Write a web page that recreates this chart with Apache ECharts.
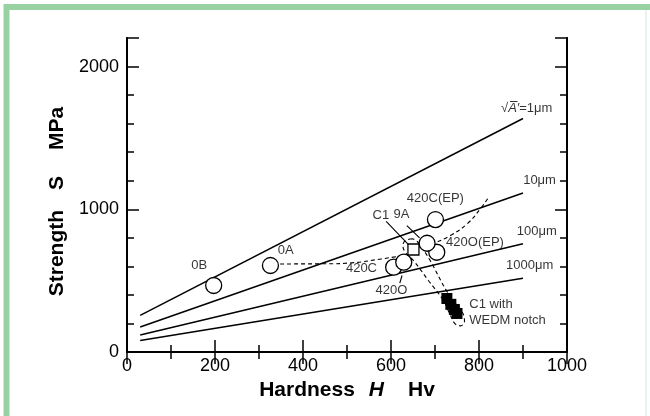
<!DOCTYPE html>
<html>
<head>
<meta charset="utf-8">
<script src="https://cdn.jsdelivr.net/npm/echarts@6/dist/echarts.min.js"></script>
<style>
html,body{margin:0;padding:0;background:#fff;}
#main{width:650px;height:416px;}
</style>
</head>
<body>
<div id="main"></div>
<script>
// sqrt(area) reference lines : two end points each
var lineH = [30, 900];
var line1um = [257, 1636];
var line10um = [175, 1114];
var line100um = [119, 759];
var line1000um = [81, 517];

// open circles
var circleNames = ['0B', '0A', '420C', '420O', '420C(EP)', '420O(EP)', '9A'];
var circleH = [197, 326, 606, 629, 701, 704, 682];
var circleS = [466, 606, 594, 629, 928, 699, 762];

// open square C1
var c1H = [651];
var c1S = [718];

// C1 with WEDM notch (filled squares)
var wedmH = [727, 736, 744, 750];
var wedmS = [375, 334, 298, 270];

// dashed trend curves
var dash0AH = [348, 450, 515, 578, 612];
var dash0AS = [617, 618, 626, 652, 668];
var dashEPH = [706, 735, 773, 803, 822];
var dashEPS = [772, 816, 898, 1003, 1084];
var loopH = [648, 633, 627, 633, 651, 685, 719, 735, 746, 758, 767, 762, 728, 689, 667, 657, 648];
var loopS = [793, 781, 746, 697, 641, 501, 362, 257, 197, 183, 215, 278, 420, 641, 746, 781, 793];

// leader lines
var leadC1H = [589, 642], leadC1S = [916, 746];
var lead9AH = [636, 665], lead9AS = [886, 800];
var lead420OH = [625, 620], lead420OS = [536, 482];

// annotation texts and where they sit
var noteText = ['0B', '0A', '420C', '420O', '420C(EP)', 'C1', '9A', '420O(EP)', 'C1 with', 'WEDM notch',
  '√{i|A\u0305′}=1μm', '10μm', '100μm', '1000μm'];
var noteH = [165, 362, 534, 602, 702, 578, 625, 792, 779, 779, 968, 976, 978, 970];
var noteS = [601, 709, 585, 431, 1070, 956, 958, 762, 329, 220, 1702, 1201, 839, 601];
var noteAlign = ['center', 'center', 'center', 'center', 'center', 'center', 'center', 'center', 'left', 'left',
  'right', 'right', 'right', 'right'];

var font = 'Liberation Sans, Arial, Helvetica, sans-serif';

function pairs(xs, ys) {
	var out = [];
	for (var i = 0; i < xs.length; i++) out.push([xs[i], ys[i]]);
	return out;
}

function refLine(vals) {
	return {
		type: 'line', data: pairs(lineH, vals), showSymbol: false, silent: true,
		lineStyle: {color: '#000', width: 1.5}, z: 2
	};
}

function dashed(xs, ys, smooth) {
	return {
		type: 'line', data: pairs(xs, ys), showSymbol: false, smooth: smooth, silent: true,
		lineStyle: {color: '#000', width: 1.1, type: [4, 3]}, z: 3
	};
}

function leader(xs, ys) {
	return {
		type: 'line', data: pairs(xs, ys), showSymbol: false, silent: true,
		lineStyle: {color: '#000', width: 1.1}, z: 3
	};
}

var notes = [];
for (var i = 0; i < noteText.length; i++) {
	notes.push({
		value: [noteH[i], noteS[i]], name: noteText[i],
		label: {align: noteAlign[i]}
	});
}

var xBase = {
	type: 'value', min: 0, max: 1000, interval: 200,
	axisLine: {lineStyle: {color: '#000', width: 2}},
	axisTick: {inside: true, length: 12, lineStyle: {color: '#000', width: 1.5}},
	minorTick: {show: true, splitNumber: 2, length: 7, lineStyle: {color: '#000', width: 1.5}},
	splitLine: {show: false}
};

function yAxisDef(pos, interval, len) {
	return {
		type: 'value', position: pos, min: 0, max: 2200, interval: interval,
		axisLine: {show: true, lineStyle: {color: '#000', width: 2}},
		axisTick: {show: true, inside: true, length: len, lineStyle: {color: '#000', width: 1.5}},
		axisLabel: {show: false},
		splitLine: {show: false}
	};
}

var yLeft = yAxisDef('left', 200, 7);
yLeft.axisLabel = {
	show: true, fontSize: 18, color: '#000', fontFamily: font, margin: 8,
	formatter: function (v) { return v % 1000 === 0 ? String(v) : ''; }
};
yLeft.name = '{b|Strength}{s|S}{m|MPa}';
yLeft.nameLocation = 'middle';
yLeft.nameGap = 54;
yLeft.nameRotate = 90;
yLeft.nameTextStyle = {
	rich: {
		b: {fontSize: 21, fontWeight: 'bold', color: '#000', fontFamily: font},
		s: {fontSize: 21, fontWeight: 'bold', color: '#000', fontFamily: font, padding: [0, 26, 0, 20]},
		m: {fontSize: 21, fontWeight: 'bold', color: '#000', fontFamily: font, padding: [0, 13, 0, 0]}
	}
};

var chart = echarts.init(document.getElementById('main'));
chart.setOption({
	backgroundColor: '#fff',
	animation: false,
	grid: {left: 127, right: 83, top: 38, bottom: 64, containLabel: false},
	xAxis: [
		Object.assign({}, xBase, {
			position: 'bottom',
			axisLabel: {fontSize: 18, color: '#000', fontFamily: font, margin: 5,
				formatter: function (v) { return String(v); }},
			name: '{b|Hardness}{i|H}{b|Hv}',
			nameLocation: 'middle',
			nameGap: 20,
			nameTextStyle: {
				rich: {
					b: {fontSize: 21, fontWeight: 'bold', color: '#000', fontFamily: font},
					i: {fontSize: 21, fontWeight: 'bold', fontStyle: 'italic', color: '#000', fontFamily: font, padding: [0, 24, 0, 14]}
				}
			}
		}),
		Object.assign({}, xBase, {position: 'top', axisLabel: {show: false}})
	],
	yAxis: [
		yLeft,
		yAxisDef('left', 1000, 12),
		yAxisDef('right', 200, 7),
		yAxisDef('right', 1000, 12)
	],
	graphic: [
		{type: 'rect', shape: {x: 6.5, y: 7, width: 700, height: 500}, style: {fill: 'none', stroke: '#98d2a2', lineWidth: 6}, silent: true},
		{type: 'line', shape: {x1: 646, y1: 10, x2: 646, y2: 416}, style: {stroke: '#d3e8d6', lineWidth: 1}, silent: true}
	],
	series: [
		refLine(line1um),
		refLine(line10um),
		refLine(line100um),
		refLine(line1000um),
		dashed(dash0AH, dash0AS, true),
		dashed(dashEPH, dashEPS, true),
		dashed(loopH, loopS, 0.4),
		leader(leadC1H, leadC1S),
		leader(lead9AH, lead9AS),
		leader(lead420OH, lead420OS),
		{
			type: 'scatter', data: pairs(circleH, circleS), symbol: 'circle', symbolSize: 16, silent: true,
			itemStyle: {color: '#fff', borderColor: '#000', borderWidth: 1.3, opacity: 1}, z: 5
		},
		{
			type: 'scatter', data: pairs(c1H, c1S), symbol: 'rect', symbolSize: 11, silent: true,
			itemStyle: {color: '#fff', borderColor: '#000', borderWidth: 1.3, opacity: 1}, z: 6
		},
		{
			type: 'scatter', data: pairs(wedmH, wedmS), symbol: 'rect', symbolSize: 11, silent: true,
			itemStyle: {color: '#000', opacity: 1}, z: 6
		},
		{
			type: 'scatter', data: notes, symbolSize: 1, silent: true,
			itemStyle: {color: 'rgba(0,0,0,0)'}, z: 7,
			label: {
				show: true, position: [0, 0], verticalAlign: 'middle', formatter: '{b}',
				fontSize: 13, color: '#000', fontFamily: font,
				rich: {i: {fontSize: 13, fontStyle: 'italic', color: '#000', fontFamily: font}}
			}
		}
	]
});
</script>
</body>
</html>
